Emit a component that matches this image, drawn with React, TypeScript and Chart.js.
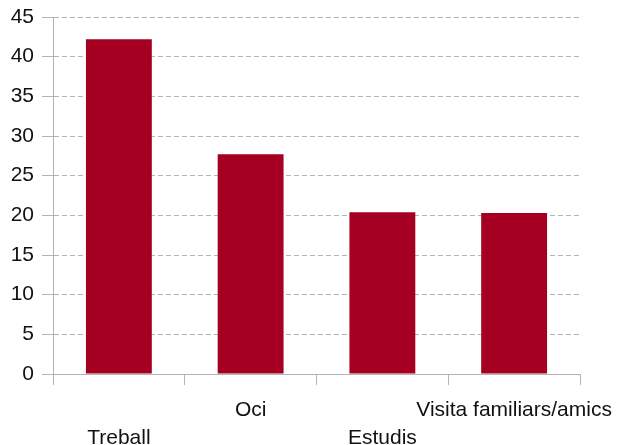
import React, { useEffect, useRef } from "react";
import { Chart, registerables } from "chart.js";

Chart.register(...registerables);

const categories: (string | string[])[] = [["", "Treball"], "Oci", ["", "Estudis"], "Visita familiars/amics"];
const values: number[] = [42.2, 27.7, 20.4, 20.3];
const yTicks: number[] = [0, 5, 10, 15, 20, 25, 30, 35, 40, 45];

export default function App() {
  const ref = useRef<HTMLCanvasElement | null>(null);
  useEffect(() => {
    if (!ref.current) return;
    const chart = new Chart(ref.current, {
      type: "bar",
      data: {
        labels: categories,
        datasets: [
          {
            data: values,
            backgroundColor: "#a50021",
            borderWidth: 0,
            barPercentage: 0.5,
            categoryPercentage: 1,
          },
        ],
      },
      options: {
        animation: false,
        responsive: false,
        maintainAspectRatio: false,
        layout: { padding: { left: 0, right: 37, top: 17, bottom: 0 } },
        plugins: { legend: { display: false }, tooltip: { enabled: false } },
        scales: {
          x: {
            afterFit: (axis: any) => {
              axis.height = 71;
              axis.paddingLeft = 0;
              axis.paddingRight = 0;
            },
            grid: {
              offset: true,
              drawOnChartArea: false,
              drawTicks: true,
              tickLength: 11,
              color: "#b3b3b3",
            },
            border: { display: true, color: "#b3b3b3", width: 1 },
            ticks: {
              color: "#111111",
              font: { family: "'Liberation Sans', Arial, sans-serif", size: 21, lineHeight: 1.3 },
              padding: 12,
              maxRotation: 0,
              autoSkip: false,
            },
          },
          y: {
            min: 0,
            max: 45,
            afterBuildTicks: (axis: any) => {
              axis.ticks = yTicks.map((v) => ({ value: v }));
            },
            afterFit: (axis: any) => {
              axis.width = 53;
              axis.paddingTop = 0;
              axis.paddingBottom = 0;
            },
            grid: {
              color: "#b3b3b3",
              tickLength: 11,
              drawTicks: true,
            },
            border: { display: true, color: "#b3b3b3", width: 1, dash: [5, 3] },
            ticks: {
              color: "#111111",
              font: { family: "'Liberation Sans', Arial, sans-serif", size: 21 },
              padding: 8,
            },
          },
        },
      },
    });
    return () => chart.destroy();
  }, []);
  return (
    <div style={{ position: "fixed", left: 0, top: 0, width: 617, height: 445, background: "#fff" }}>
      <canvas ref={ref} width={617} height={445} />
    </div>
  );
}
